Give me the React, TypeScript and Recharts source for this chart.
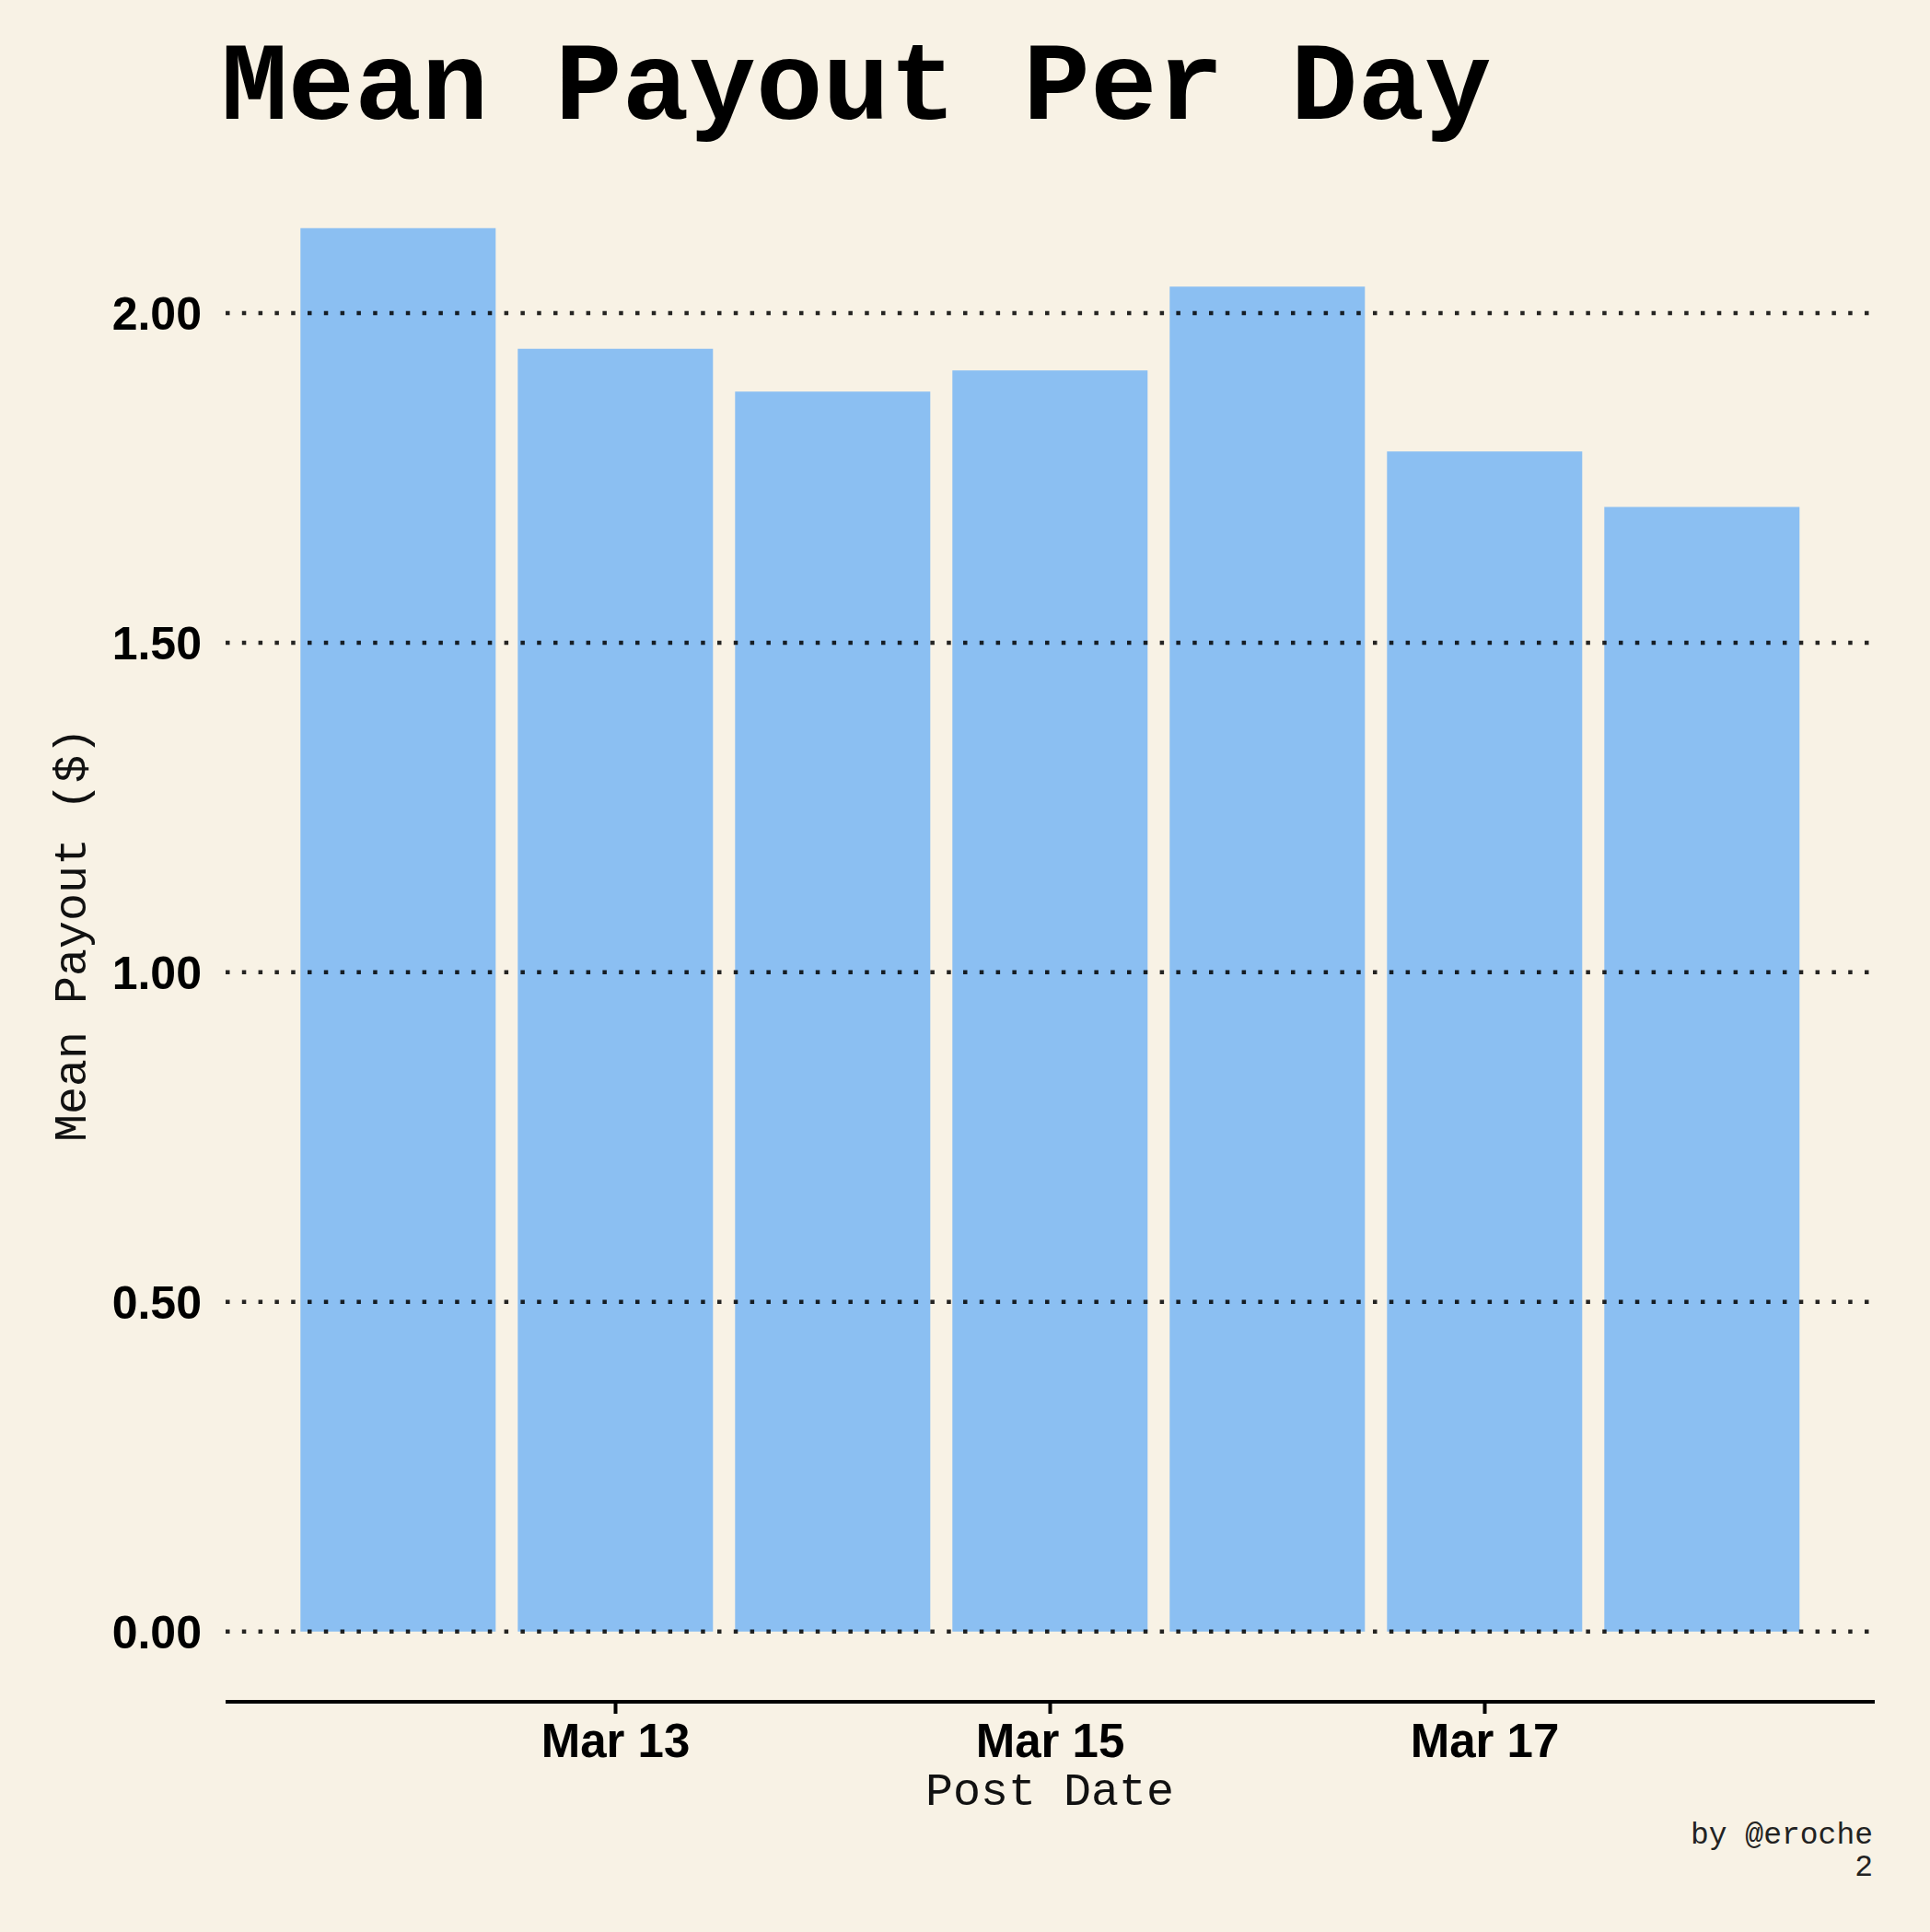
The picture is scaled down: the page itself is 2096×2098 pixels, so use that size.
import { BarChart, Bar, XAxis, YAxis, ReferenceLine } from 'recharts'

const days = ['Mar 12', 'Mar 13', 'Mar 14', 'Mar 15', 'Mar 16', 'Mar 17', 'Mar 18']
const payouts = [2.129, 1.946, 1.881, 1.913, 2.04, 1.79, 1.706]
const yTicks = [0, 0.5, 1, 1.5, 2]
const shownDays = ['Mar 13', 'Mar 15', 'Mar 17']

const data = days.map((day, i) => ({ day, payout: payouts[i] }))

const BG = '#f8f2e5'
const BAR = '#8bbff2'
const MONO = '"Liberation Mono", "Courier New", monospace'
const SANS = '"Liberation Sans", Arial, Helvetica, sans-serif'

const DayTick = (props: any) => {
  const { x, y, payload } = props
  if (!shownDays.includes(payload.value)) return null
  return (
    <g>
      <line x1={x} x2={x} y1={y + 2} y2={y + 13} stroke="#000" strokeWidth={4} />
      <text
        x={x}
        y={y + 60}
        textAnchor="middle"
        fontFamily={SANS}
        fontWeight="bold"
        fontSize={51}
        fill="#000"
      >
        {payload.value}
      </text>
    </g>
  )
}

const App = (): JSX.Element => {
  return (
    <div
      style={{
        position: 'absolute',
        left: 0,
        top: 0,
        width: 2096,
        height: 2098,
        background: BG,
      }}
    >
      <BarChart
        width={2096}
        height={2098}
        data={data}
        barCategoryGap="5%"
        margin={{ top: 171.4, right: 60, bottom: 150, left: 45 }}
      >
        <XAxis
          dataKey="day"
          type="category"
          height={100}
          interval={0}
          padding={{ left: 69.5, right: 69.5 }}
          axisLine={{ stroke: '#000', strokeWidth: 4 }}
          tickLine={false}
          tickSize={0}
          tickMargin={0}
          tick={<DayTick />}
        />
        <YAxis
          width={200}
          type="number"
          domain={[-0.1065, 2.2355]}
          ticks={yTicks}
          interval={0}
          axisLine={false}
          tickLine={false}
          tickSize={0}
          tickMargin={26}
          tickFormatter={(v: number) => v.toFixed(2)}
          tick={{ fill: '#000', fontSize: 50, fontWeight: 'bold', fontFamily: SANS }}
        />
        <Bar dataKey="payout" fill={BAR} isAnimationActive={false} />
        {yTicks.map((v) => (
          <ReferenceLine
            key={v}
            y={v}
            stroke="#000"
            strokeOpacity={0.85}
            strokeWidth={4.5}
            strokeDasharray="4.5 13.3"
          />
        ))}
      </BarChart>
      <svg
        width={2096}
        height={2098}
        style={{ position: 'absolute', left: 0, top: 0, pointerEvents: 'none' }}
      >
        <text x={240} y={129} fontFamily={MONO} fontWeight="bold" fontSize={121} fill="#000">
          Mean Payout Per Day
        </text>
        <text
          x={93}
          y={1015}
          transform="rotate(-90, 93, 1015)"
          textAnchor="middle"
          fontFamily={MONO}
          fontSize={50}
          fill="#111"
        >
          Mean Payout ($)
        </text>
        <text x={1140} y={1960} textAnchor="middle" fontFamily={MONO} fontSize={50} fill="#111">
          Post Date
        </text>
        <text x={2034} y={2002} textAnchor="end" fontFamily={MONO} fontSize={33} fill="#222">
          by @eroche
        </text>
        <text x={2034} y={2037} textAnchor="end" fontFamily={MONO} fontSize={33} fill="#222">
          2
        </text>
      </svg>
    </div>
  )
}

export default App
